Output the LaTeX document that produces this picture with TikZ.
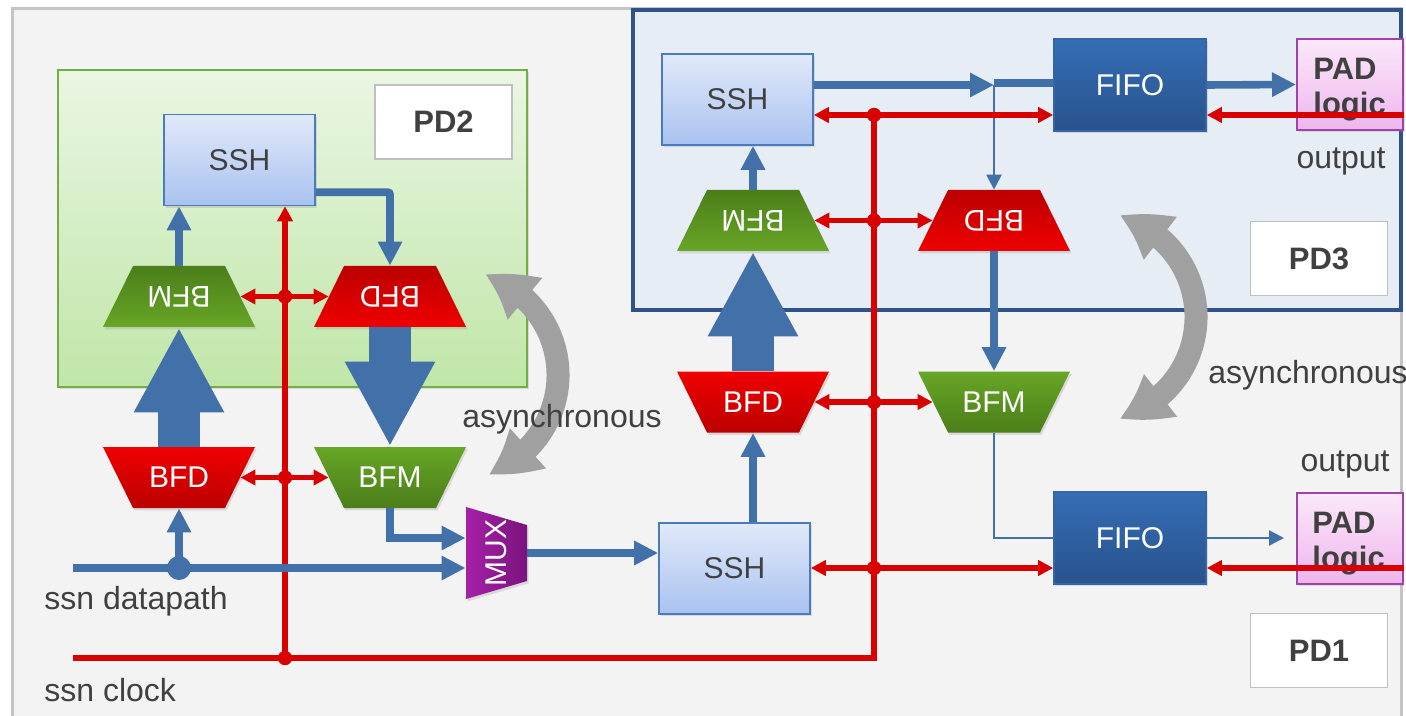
\documentclass[tikz,border=0pt]{standalone}
\usepackage{fontspec}
\setmainfont{Liberation Sans}
\usetikzlibrary{arrows.meta,bending,shadows,calc}

\definecolor{bgpage}{HTML}{F3F3F3}
\definecolor{bgframe}{HTML}{C4C4C4}
\definecolor{pdtwotop}{HTML}{EAF6E3}
\definecolor{pdtwobot}{HTML}{C0E6A8}
\definecolor{pdtwoline}{HTML}{72AD45}
\definecolor{pdthreefill}{HTML}{E6EDF5}
\definecolor{pdthreeline}{HTML}{2F528A}
\definecolor{lblline}{HTML}{BFBFBF}
\definecolor{txtgray}{HTML}{404040}
\definecolor{sshtop}{HTML}{E1E9F9}
\definecolor{sshbot}{HTML}{A9C2F0}
\definecolor{sshline}{HTML}{4A7BBF}
\definecolor{fifotop}{HTML}{356EB5}
\definecolor{fifobot}{HTML}{28528C}
\definecolor{fifoline}{HTML}{3565A5}
\definecolor{padtop}{HTML}{FBE8FA}
\definecolor{padbot}{HTML}{EEB6EC}
\definecolor{padline}{HTML}{A043A8}
\definecolor{muxleft}{HTML}{A521A5}
\definecolor{muxright}{HTML}{7A137F}
\definecolor{redlight}{HTML}{F00000}
\definecolor{reddark}{HTML}{BB0000}
\definecolor{greenlight}{HTML}{67A626}
\definecolor{greendark}{HTML}{4B7E1A}
\definecolor{bluewire}{HTML}{4270A8}
\definecolor{redwire}{HTML}{D90000}
\definecolor{asyncgray}{HTML}{A0A0A0}

% trapezoid, long edge on top; #1 name, #2 centre, #3/#4 top/bottom colour, #5 text
\newcommand\trapwidetop[5]{%
  \path[top color=#3, bottom color=#4, softshadow]
    ([shift={(-76,30.5)}]#2) -- ([shift={(76,30.5)}]#2) --
    ([shift={(46,-30.5)}]#2) -- ([shift={(-46,-30.5)}]#2) -- cycle;
  \node[trapanchor] (#1) at (#2) {#5};
}
% trapezoid, long edge at the bottom
\newcommand\trapwidebot[5]{%
  \path[top color=#3, bottom color=#4, softshadow]
    ([shift={(-46,30.5)}]#2) -- ([shift={(46,30.5)}]#2) --
    ([shift={(76,-30.5)}]#2) -- ([shift={(-76,-30.5)}]#2) -- cycle;
  \node[trapanchor] (#1) at (#2) {\rotatebox[origin=c]{180}{#5}};
}

\tikzset{
  softshadow/.style={drop shadow={opacity=0.22, shadow xshift=0.8pt, shadow yshift=-1.2pt}},
  box/.style={rectangle, inner sep=0pt, line width=0.8pt, softshadow, font=\fontsize{15}{18}\selectfont},
  sshbox/.style={box, draw=sshline, top color=sshtop, bottom color=sshbot, text=txtgray,
    minimum width=75.5pt, minimum height=45.5pt},
  fifobox/.style={box, draw=fifoline, top color=fifotop, bottom color=fifobot, text=white,
    minimum width=76pt, minimum height=46pt},
  padbox/.style={box, draw=padline, line width=1pt, top color=padtop, bottom color=padbot,
    minimum width=53pt, minimum height=45.5pt},
  padtext/.style={inner sep=0pt, align=left, text=txtgray, font=\fontsize{15.5}{17.5}\selectfont\bfseries},
  pdlabel/.style={rectangle, draw=lblline, line width=0.8pt, fill=white, minimum width=68.5pt,
    minimum height=37pt, font=\fontsize{15.5}{18}\selectfont\bfseries, text=txtgray},
  trapanchor/.style={rectangle, inner sep=0pt, minimum width=61pt, minimum height=30.5pt,
    text=white, font=\fontsize{15}{18}\selectfont},
  wire/.style={draw=bluewire, line width=3.8pt},
  thinwire/.style={draw=bluewire, line width=1.2pt},
  fatwire/.style={draw=bluewire, line width=21pt, -{Triangle[width=42pt,length=42.5pt]}},
  blueto/.style={-{Triangle[width=11.5pt,length=12pt]}},
  thinto/.style={-{Triangle[width=7.5pt,length=7.5pt]}},
  clk/.style={draw=redwire, line width=2.6pt},
  redtip/.style={-{Triangle[width=7.5pt,length=7.5pt]}},
  redboth/.style={{Triangle[width=7.5pt,length=7.5pt]}-{Triangle[width=7.5pt,length=7.5pt]}},
  reddot/.style={circle, fill=redwire, inner sep=0pt, minimum size=7.2pt},
  bluedot/.style={circle, fill=bluewire, inner sep=0pt, minimum size=12pt},
  lbl/.style={inner sep=0pt, text=txtgray, font=\fontsize{16}{19}\selectfont},
  asyncarrow/.style={draw=asyncgray, line width=11.5pt,
    {Triangle[bend,width=25pt,length=24pt]}-{Triangle[bend,width=25pt,length=24pt]}},
}

\begin{document}
\begin{tikzpicture}[x=0.5pt, y=0.5pt]
\useasboundingbox (0,0) rectangle (1406,-716);
\clip (0,0) rectangle (1406,-716);
\fill[white] (0,0) rectangle (1406,-716);

% power domain areas
\path[fill=bgpage, draw=bgframe, line width=1.5pt] (12,-9) rectangle (1401,-760);
\path[top color=pdtwotop, bottom color=pdtwobot, draw=pdtwoline, line width=0.8pt, softshadow]
  (58,-70) rectangle (527,-387);
\path[fill=pdthreefill, draw=pdthreeline, line width=2pt] (633,-10) rectangle (1401,-310);

\node[pdlabel] (pd2) at (443.5,-122) {PD2};
\node[pdlabel] (pd3) at (1319,-258.5) {PD3};
\node[pdlabel] (pd1) at (1319,-650.5) {PD1};

% clock domain crossings
\draw[asyncarrow] (454,-375) ++(73:52pt) arc[start angle=73, end angle=-71, radius=52pt];
\draw[asyncarrow] (1092,-317) ++(75:52pt) arc[start angle=75, end angle=-75, radius=52pt];

\node[lbl, anchor=west] (asyncL) at (462,-419) {asynchronous};
\node[lbl, anchor=west] (asyncR) at (1208,-375) {asynchronous};
\node[lbl, anchor=west] (dplabel) at (44,-601) {ssn datapath};
\node[lbl, anchor=west] (clklabel) at (44,-690) {ssn clock};
\node[lbl] (outT) at (1341,-161) {output};
\node[lbl] (outB) at (1345,-464) {output};

% blocks
\node[sshbox] (ssh2) at (239.5,-160) {SSH};
\node[sshbox] (sshT) at (737.5,-99.5) {SSH};
\node[sshbox] (sshB) at (734.5,-568.5) {SSH};
\node[fifobox] (fifoT) at (1130,-85) {FIFO};
\node[fifobox] (fifoB) at (1130,-538) {FIFO};
\node[padbox] (padT) at (1350,-84.5) {};
\node[padbox] (padB) at (1349.5,-538) {};
\node[padtext, anchor=west] (padTt) at (1313,-89.5) {PAD\\logic};
\node[padtext, anchor=west] (padBt) at (1312,-543.5) {PAD\\logic};

\trapwidebot{bfm2}{179,-296.5}{greendark}{greenlight}{BFM}
\trapwidebot{bfd2}{390,-296.5}{reddark}{redlight}{BFD}
\trapwidetop{bfd1}{179,-477.5}{redlight}{reddark}{BFD}
\trapwidetop{bfm1}{390,-477.5}{greenlight}{greendark}{BFM}
\trapwidebot{bfmT}{753,-220.5}{greendark}{greenlight}{BFM}
\trapwidebot{bfdT}{994,-220.5}{reddark}{redlight}{BFD}
\trapwidetop{bfdR}{753,-402}{redlight}{reddark}{BFD}
\trapwidetop{bfmR}{994,-402}{greenlight}{greendark}{BFM}

\path[left color=muxleft, right color=muxright, softshadow]
  (466,-507) -- (527,-525) -- (527,-581) -- (466,-599) -- cycle;
\node[trapanchor, minimum width=30.5pt, minimum height=46pt] (mux) at (496.5,-553)
  {\rotatebox{90}{MUX}};

% clock network
\coordinate (clkin) at (73,-658);
\coordinate (jA) at (285,-658);
\coordinate (jB) at (874,-658);
\coordinate (rT1) at (874,-115);
\coordinate (rB1) at (874,-568);
\draw[clk] (clkin) -- (jB) -- (rT1);
\draw[clk, redtip] (jA) -- (jA |- ssh2.south);

% data path
\draw[wire, blueto] (bfm2.north) -- (bfm2.north |- ssh2.south);
\draw[wire, blueto, rounded corners=1pt] ([yshift=7pt]ssh2.south east) -| (bfd2.north);
\draw[fatwire] (bfd1.north) -- (bfm2.south);
\draw[fatwire] (bfd2.south) -- (bfm1.north);
\draw[wire, blueto] (bfm1.south) |- ([yshift=7.5pt]mux.west);
\coordinate (dpin) at (73,-568);
\draw[wire, blueto] (dpin) -- (dpin -| mux.west);
\node[bluedot] (dpj) at (179,-568) {};
\draw[wire, blueto] (dpj.center) -- (bfd1.south);
\draw[wire, blueto] (mux.east) -- (mux.east -| sshB.west);
\draw[wire, blueto] (bfdR.south |- sshB.north) -- (bfdR.south);
\draw[fatwire] (bfdR.north) -- (bfmT.south);
\draw[wire, blueto] (bfmT.north) -- (bfmT.north |- sshT.south);
\coordinate (split) at (bfdT.north |- fifoT.west);
\draw[wire, blueto] (sshT.east |- split) -- (split);
\draw[wire] ([yshift=1pt]split) -- ([yshift=1pt]fifoT.west);
\draw[thinwire, thinto] (split) -- (bfdT.north);
\draw[wire, blueto] (bfdT.south) -- (bfmR.north);
\draw[thinwire] (bfmR.south) |- (fifoB.west);
\draw[wire, blueto] (fifoT.east) -- (padT.west);
\coordinate (outBend) at (1284,-538);
\draw[thinwire, thinto] (fifoB.east) -- (outBend);

% clock distribution to the blocks
\draw[clk, redboth] (bfm2.east) -- (bfd2.west);
\draw[clk, redboth] (bfd1.east) -- (bfm1.west);
\draw[clk, redboth] (bfmT.east) -- (bfdT.west);
\draw[clk, redboth] (bfdR.east) -- (bfmR.west);
\draw[clk, redboth] (sshT.east |- rT1) -- (fifoT.west |- rT1);
\draw[clk, redboth] (sshB.east |- rB1) -- (fifoB.west |- rB1);
\draw[clk, redtip] (padT.east |- rT1) -- (fifoT.east |- rT1);
\draw[clk, redtip] (padB.east |- rB1) -- (fifoB.east |- rB1);

\node[reddot] (dot1) at (jA) {};
\node[reddot] (dot2) at (jA |- bfm2.east) {};
\node[reddot] (dot3) at (jA |- bfd1.east) {};
\node[reddot] (dot4) at (rT1) {};
\node[reddot] (dot5) at (jB |- bfmT.east) {};
\node[reddot] (dot6) at (jB |- bfdR.east) {};
\node[reddot] (dot7) at (rB1) {};
\end{tikzpicture}
\end{document}
